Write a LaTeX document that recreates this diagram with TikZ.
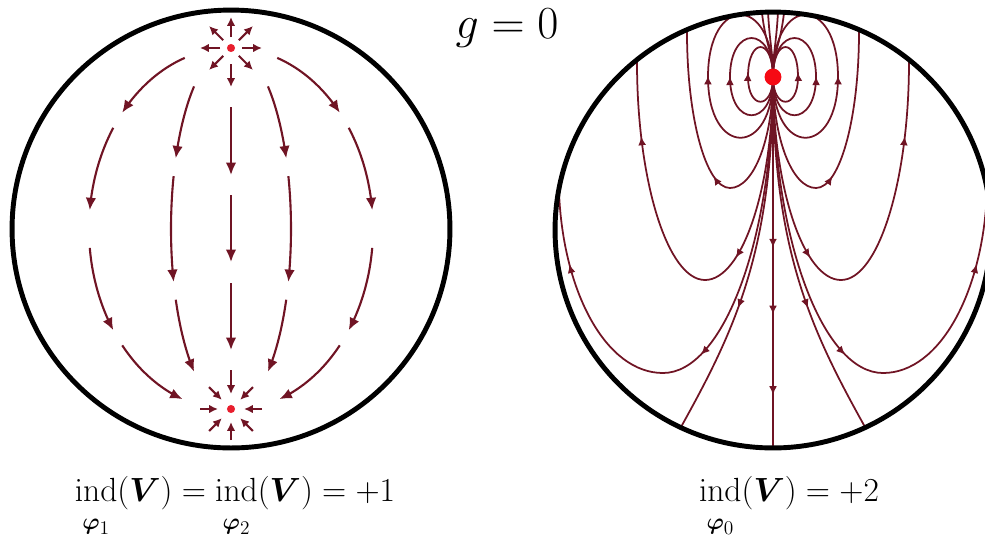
\documentclass[tikz,border=0pt]{standalone}
\usepackage{amsmath}
\definecolor{flowred}{RGB}{112, 20, 36}
\definecolor{dotred}{RGB}{232, 30, 45}
\definecolor{polered}{RGB}{245, 10, 20}
\usetikzlibrary{arrows.meta, calc, decorations.markings}
\newcommand{\indsub}[1]{\mathop{\mathrm{ind}}\limits_{\raisebox{-5pt}{$\scriptstyle\boldsymbol{\varphi}_{#1}$}}}

\begin{document}
\begin{tikzpicture}[
        x=0.02cm, y=-0.02cm,
        rim/.style={line width=2.8pt, black},
        flow/.style={flowred, line width=1.2pt, -{Latex[length=7pt, width=6pt]}},
        short/.style={flow, -{Latex[length=5pt, width=4.8pt]}},
        field/.style={flowred, line width=1pt},
        arrowat/.style={postaction={decorate, decoration={markings,
            mark=at position #1 with {\arrow{Latex[length=5pt, width=4.5pt]}}}}},
        pole/.style={circle, fill=dotred, inner sep=0pt, minimum size=4.6pt},
        bigpole/.style={circle, fill=polered, inner sep=0pt, minimum size=9.6pt},
        indtext/.style={font=\huge, scale=0.92, transform shape, anchor=base}
    ]
    \useasboundingbox (0,0) rectangle (985,539);

    % Left sphere: source and sink
    \node[pole] (srcA) at (231,48) {};
    \node[pole] (snkA) at (231,409) {};
    \foreach \ang in {0,45,135,180,225,270,315}
        \draw[short] ($(srcA)+(\ang:11)$) -- ($(srcA)+(\ang:31)$);
    \foreach \ang in {0,45,90,135,180,225,315}
        \draw[short] ($(snkA)+(\ang:31)$) -- ($(snkA)+(\ang:13)$);
    % meridians
    \foreach \s in {-1,1}
        \foreach \a/\ta/\tb in {142/19/50, 142/56/84, 142/96/124, 142/130/160,
                                60/38/67, 60/73/107, 60/113/142}
            \draw[flow] plot[domain=\ta:\tb, samples=12, smooth]
                ({231+\s*\a*sin(\x)}, {229-181*cos(\x)});
    \draw[short] (231,64) -- (231,87);
    \foreach \ya/\yb in {107/175, 195/262, 283/350}
        \draw[flow] (231,\ya) -- (231,\yb);
    \draw[short] (231,370) -- (231,394);
    \draw[rim] (231,229) circle[radius=4.38cm];

    % Right sphere: one pole of index 2
    \coordinate (srcB) at (773,77);
    \foreach \s in {-1,1}{
        \begin{scope}[shift={(773,77)}, xscale=\s]
            % closed loops
            \foreach \w/\cd/\cu in {25/33/40, 43/51/52, 65/81/83}
                \draw[field, arrowat=0.5] (0,0) .. controls +(0,\cd) and +(0,\cd) .. (-\w,0)
                    .. controls +(0,-\cu) and +(0,-\cu) .. (0,0);
            % lines to the rim
            \draw[field, arrowat=0.5] (0,0) .. controls (0,61) and (-19,111) .. (-43,111)
                .. controls (-67,111) and (-86,41) .. (-86,-45);
            \draw[field, arrowat=0.4, arrowat=0.84] (0,0) .. controls (0,112) and (-31,203) .. (-68,203)
                .. controls (-105,203) and (-136,105) .. (-136,-15);
            \draw[field, arrowat=0.52, arrowat=0.87] (0,0) .. controls (0,163) and (-50,296) .. (-110,296)
                .. controls (-167,296) and (-210,215) .. (-214,115);
            \draw[field, arrowat=0.64] (0,0) .. controls (0,173) and (-38,253) .. (-92,350);
            \draw[field] (-11,-64) .. controls (-7,-30) and (0,-25) .. (0,0);
            \draw[field] (-5,-65) .. controls (-3,-30) and (0,-25) .. (0,0);
        \end{scope}
    }
    \draw[field, arrowat=0.46, arrowat=0.64, arrowat=0.857] (srcB) -- (773,448);
    \node[bigpole] (poleB) at (srcB) {};
    \draw[rim] (773,230) circle[radius=4.36cm];

    % Labels
    \node[font=\Huge, scale=1.05, transform shape, anchor=base] (genus) at (507,38) {$g=0$};
    \node[indtext] (indA) at (235,501)
        {$\indsub{1}(\boldsymbol{V}) = \indsub{2}(\boldsymbol{V}) = +1$};
    \node[indtext] (indB) at (789,501)
        {$\indsub{0}(\boldsymbol{V}) = +2$};
\end{tikzpicture}
\end{document}
